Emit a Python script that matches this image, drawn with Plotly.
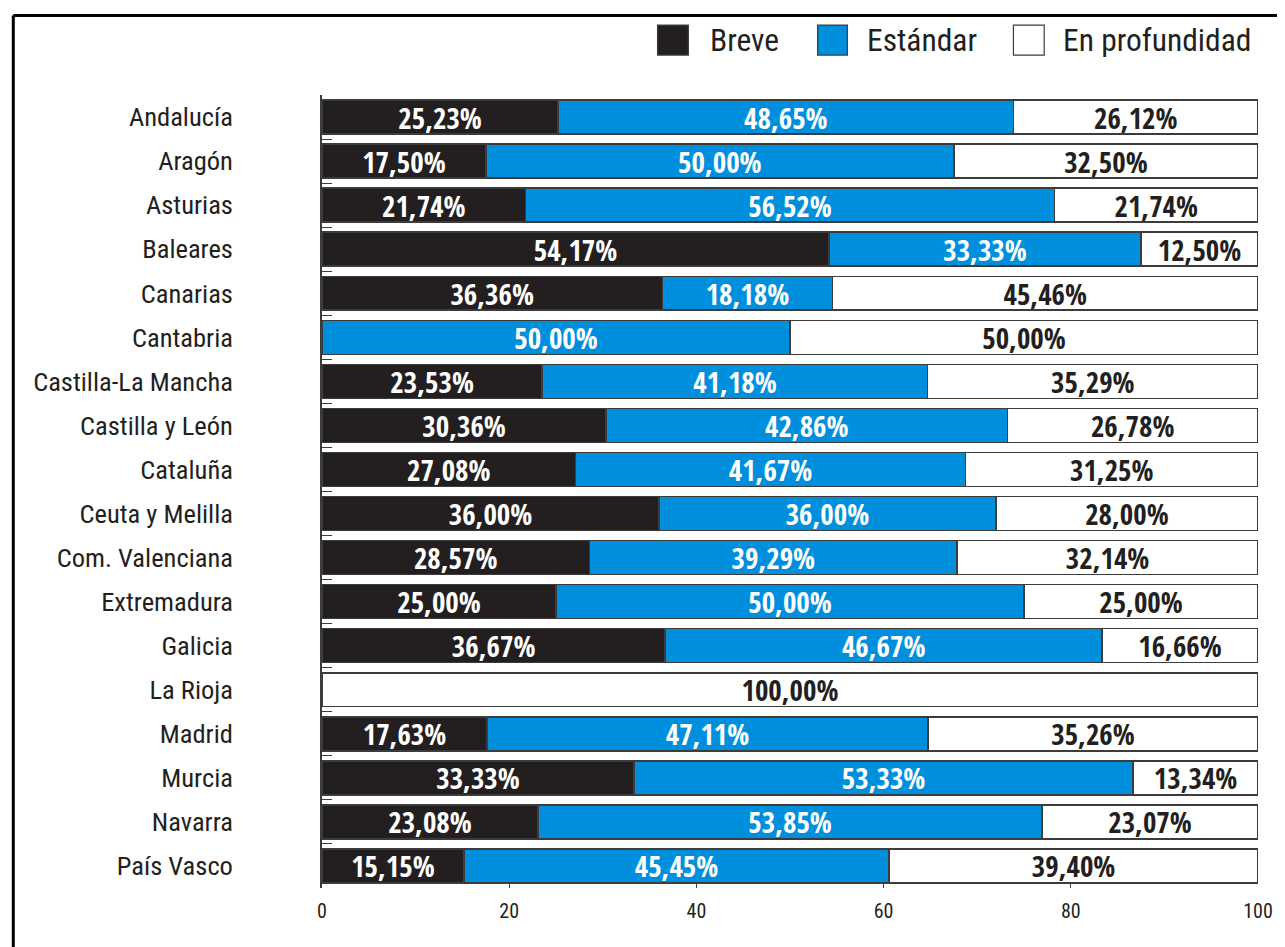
import plotly.graph_objects as go

regions = ["Andalucía", "Aragón", "Asturias", "Baleares", "Canarias", "Cantabria",
           "Castilla-La Mancha", "Castilla y León", "Cataluña", "Ceuta y Melilla",
           "Com. Valenciana", "Extremadura", "Galicia", "La Rioja", "Madrid",
           "Murcia", "Navarra", "País Vasco"]
breve = [25.23, 17.50, 21.74, 54.17, 36.36, 0, 23.53, 30.36, 27.08, 36.00,
         28.57, 25.00, 36.67, 0, 17.63, 33.33, 23.08, 15.15]
estandar = [48.65, 50.00, 56.52, 33.33, 18.18, 50.00, 41.18, 42.86, 41.67, 36.00,
            39.29, 50.00, 46.67, 0, 47.11, 53.33, 53.85, 45.45]
profundidad = [26.12, 32.50, 21.74, 12.50, 45.46, 50.00, 35.29, 26.78, 31.25, 28.00,
               32.14, 25.00, 16.66, 100.00, 35.26, 13.34, 23.07, 39.40]
series_names = ["Breve", "Estándar", "En profundidad"]
x_ticks = [0, 20, 40, 60, 80, 100]

FONT = "Roboto Condensed, DejaVu Sans Condensed, sans-serif"
BOLD_FONT = "Open Sans Condensed, Roboto Condensed, DejaVu Sans Condensed, sans-serif"
BLACK = "#231f20"
BLUE = "#008fdc"
WHITE = "#ffffff"
OUTLINE = "#3c3c3c"


def fmt(v):
    return "" if v == 0 else f"{v:.2f}".replace(".", ",") + "%"


fig = go.Figure()
for name, vals, fill, tcol in [
    (series_names[0], breve, BLACK, WHITE),
    (series_names[1], estandar, BLUE, WHITE),
    (series_names[2], profundidad, WHITE, BLACK),
]:
    fig.add_trace(go.Bar(
        name=name, y=regions, x=vals, orientation="h",
        marker=dict(color=fill, line=dict(color=OUTLINE, width=1.5)),
        text=[fmt(v) for v in vals], textposition="inside",
        insidetextanchor="middle", textangle=0, constraintext="none",
        textfont=dict(family=BOLD_FONT, size=29, color=tcol, weight="bold"),
        showlegend=False, hoverinfo="skip",
    ))

# Manual legend (large square swatches)
leg_sq = [(0.3585, 0.3914), (0.5295, 0.5613), (0.7387, 0.7716)]
leg_tx = [0.4126, 0.5804, 0.7893]
leg_fill = [BLACK, BLUE, WHITE]
shapes = []
annotations = []
for (x0, x1), tx, fill, name in zip(leg_sq, leg_tx, leg_fill, series_names):
    shapes.append(dict(type="rect", xref="paper", yref="paper", x0=x0, x1=x1,
                       y0=1.0504, y1=1.0882, fillcolor=fill,
                       line=dict(color=OUTLINE, width=1.2)))
    annotations.append(dict(xref="paper", yref="paper", x=tx, y=1.0693,
                            xanchor="left", yanchor="middle", showarrow=False,
                            text=name, font=dict(family=FONT, size=31.5, color=BLACK)))

# Frame (left and top edges)
shapes.append(dict(type="line", xref="paper", yref="paper", x0=-0.3298, x1=1.1,
                   y0=1.1004, y1=1.1004, line=dict(color="black", width=3)))
shapes.append(dict(type="line", xref="paper", yref="paper", x0=-0.3298, x1=-0.3298,
                   y0=1.1004, y1=-0.2, line=dict(color="black", width=3)))

fig.update_layout(
    width=1277, height=939,
    margin=dict(l=313.5, r=22, t=87, b=58.5),
    barmode="stack", bargap=0.23,
    paper_bgcolor="white", plot_bgcolor="white",
    font=dict(family=FONT, color=BLACK),
    shapes=shapes, annotations=annotations,
    xaxis=dict(range=[0, 100], tickvals=x_ticks, ticks="inside", ticklen=6,
               tickcolor=OUTLINE, tickwidth=1.2, showgrid=False, zeroline=False,
               showline=False, tickfont=dict(family=FONT, size=20, color=BLACK),
               ticklabelstandoff=9, fixedrange=True),
    yaxis=dict(autorange="reversed", ticks="inside", tickson="boundaries", ticklen=10,
               tickcolor=OUTLINE, tickwidth=1.2, showline=True, linecolor=OUTLINE,
               linewidth=1.5, showgrid=False, zeroline=False,
               tickfont=dict(family=FONT, size=26.5, color=BLACK),
               ticklabelstandoff=82, fixedrange=True),
)

fig.write_html("out.html")
